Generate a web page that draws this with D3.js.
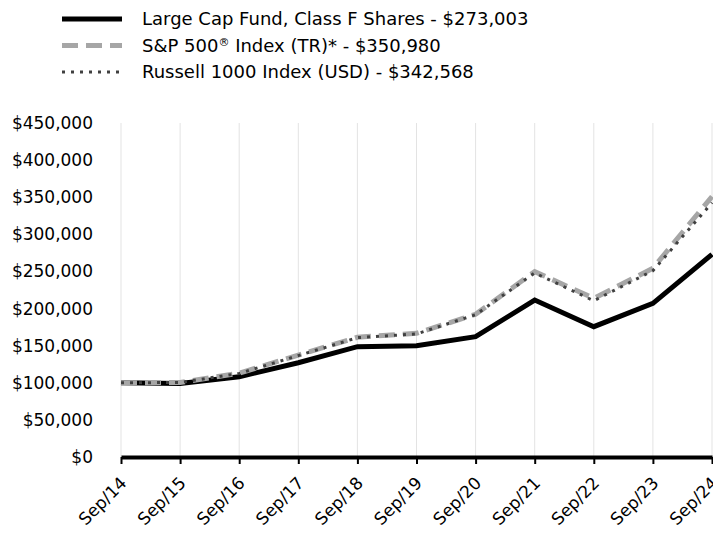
<!DOCTYPE html>
<html>
<head>
<meta charset="utf-8">
<script src="https://cdn.jsdelivr.net/npm/d3@7"></script>
<style>
  body { margin: 0; background: #fff; }
  text { font-family: "DejaVu Sans", sans-serif; }
</style>
</head>
<body>
<div id="chart-area"></div>
<script>
// Data
var years = ["Sep/14", "Sep/15", "Sep/16", "Sep/17", "Sep/18", "Sep/19", "Sep/20", "Sep/21", "Sep/22", "Sep/23", "Sep/24"];
var fund = [100000, 99000, 108200, 127000, 148600, 150000, 162100, 211500, 175600, 207000, 273003];
var sp500 = [100000, 100500, 112800, 137400, 161300, 166700, 192300, 249700, 213800, 254200, 350980];
var russell = [100000, 100400, 112600, 136600, 160800, 165800, 191700, 248000, 210500, 251000, 342568];
var yTicks = [0, 50000, 100000, 150000, 200000, 250000, 300000, 350000, 400000, 450000];
// each legend label: [before superscript, superscript, after]
var legendLabels = [
    ["Large Cap Fund, Class F Shares - $273,003", "", ""],
    ["S&P 500", "\u00AE", " Index (TR)* - $350,980"],
    ["Russell 1000 Index (USD) - $342,568", "", ""]
];

var width = 713, height = 540;
var margin = {left: 121, right: 1, top: 123, bottom: 83};

var svg = d3.select("#chart-area")
    .append("svg")
    .attr("width", width)
    .attr("height", height);

// SCALES
var x = d3.scalePoint()
    .domain(years)
    .range([margin.left, width - margin.right]);

var y = d3.scaleLinear()
    .domain([0, 450000])
    .range([height - margin.bottom, margin.top]);

// vertical gridlines
svg.selectAll(".grid")
    .data(years)
    .enter()
    .append("line")
    .attr("x1", (d) => x(d))
    .attr("x2", (d) => x(d))
    .attr("y1", y(450000))
    .attr("y2", y(0))
    .attr("stroke", "#e3e3e3")
    .attr("stroke-width", 1);

// y axis labels
var fmt = (v) => "$" + d3.format(",")(v);
svg.selectAll(".ylab")
    .data(yTicks)
    .enter()
    .append("text")
    .attr("x", 93)
    .attr("y", (d) => y(d))
    .attr("dy", "0.35em")
    .attr("text-anchor", "end")
    .attr("font-size", 17)
    .attr("fill", "#000")
    .text(fmt);

// x axis
var xAxis = svg.append("g")
    .attr("transform", "translate(0," + y(0) + ")")
    .call(d3.axisBottom(x).tickSize(7).tickSizeOuter(0));
xAxis.select(".domain").attr("stroke", "#000").attr("stroke-width", 4);
xAxis.selectAll(".tick line").attr("stroke", "#000").attr("stroke-width", 2);
xAxis.selectAll(".tick text")
    .attr("font-size", 17)
    .attr("font-family", "DejaVu Sans, sans-serif")
    .attr("fill", "#000")
    .attr("text-anchor", "end")
    .attr("transform", "translate(2,23) rotate(-45)")
    .attr("dy", "0.35em")
    .attr("y", 0)
    .attr("x", 0);

var line = d3.line()
    .x((d, i) => x(years[i]))
    .y((d) => y(d));

var styles = [
    {data: fund, stroke: "#000000", width: 5, dash: null},
    {data: sp500, stroke: "#a6a6a6", width: 5, dash: "16,8"},
    {data: russell, stroke: "#404040", width: 3, dash: "3,6"}
];

svg.selectAll(".series")
    .data(styles)
    .enter()
    .append("path")
    .attr("d", (d) => line(d.data))
    .attr("fill", "none")
    .attr("stroke", (d) => d.stroke)
    .attr("stroke-width", (d) => d.width)
    .attr("stroke-dasharray", (d) => d.dash);

// legend
var legend = svg.selectAll(".legend")
    .data(styles)
    .enter()
    .append("g")
    .attr("transform", (d, i) => "translate(62," + (19 + i * 26.5) + ")");

legend.append("line")
    .attr("x1", 0)
    .attr("x2", 60)
    .attr("stroke", (d) => d.stroke)
    .attr("stroke-width", (d) => d.width)
    .attr("stroke-dasharray", (d) => d.dash);

var legendText = legend.append("text")
    .attr("x", 80)
    .attr("y", 6)
    .attr("font-size", 18)
    .attr("fill", "#000");

legendText.append("tspan").text((d, i) => legendLabels[i][0]);
legendText.append("tspan")
    .attr("dy", -6)
    .attr("font-size", 11)
    .text((d, i) => legendLabels[i][1]);
legendText.append("tspan")
    .attr("dy", (d, i) => legendLabels[i][1] ? 6 : 0)
    .text((d, i) => legendLabels[i][2]);
</script>
</body>
</html>
